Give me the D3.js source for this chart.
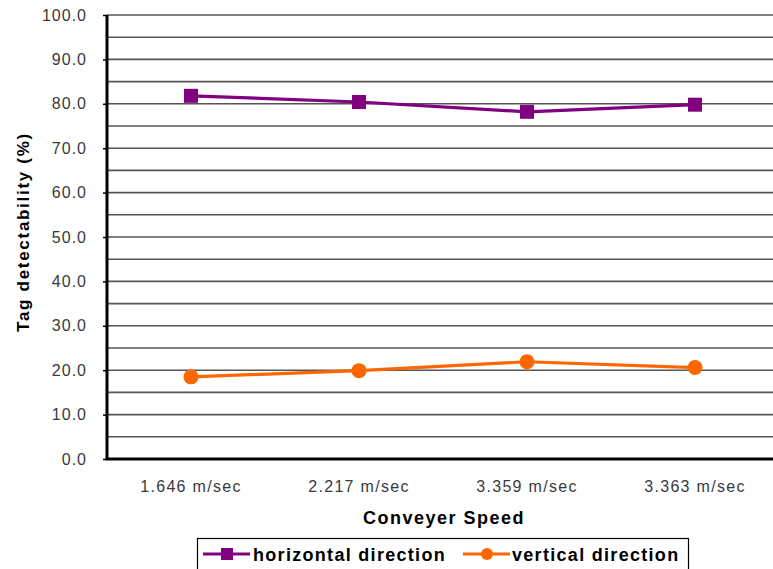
<!DOCTYPE html>
<html>
<head>
<meta charset="utf-8">
<script src="https://cdn.jsdelivr.net/npm/d3@7"></script>
<style>
  html, body { margin: 0; padding: 0; background: #fff; }
  svg { display: block; font-family: "Liberation Sans", Arial, sans-serif; }
</style>
</head>
<body>
<svg id="chart" width="773" height="569"></svg>
<script>
// Conveyer speeds and tag detectability (%) for each antenna direction
const speeds = ["1.646 m/sec", "2.217 m/sec", "3.359 m/sec", "3.363 m/sec"];
const horizontal = [81.8, 80.4, 78.2, 79.8];
const vertical = [18.5, 19.9, 21.9, 20.6];
const yTicks = [0, 10, 20, 30, 40, 50, 60, 70, 80, 90, 100];
const gridValues = [5, 10, 15, 20, 25, 30, 35, 40, 45, 50, 55, 60, 65, 70, 75, 80, 85, 90, 95, 100];
const seriesNames = ["horizontal direction", "vertical direction"];

const svg = d3.select("#chart");
const plotLeft = 107, plotRight = 779, plotTop = 15, plotBottom = 459;

const x = d3.scaleBand().domain(speeds).range([plotLeft, plotRight]);
const y = d3.scaleLinear().domain([0, 100]).range([plotBottom, plotTop]);
const cx = d => x(d) + x.bandwidth() / 2;

// horizontal gridlines every 5 %
svg.append("g").selectAll("line").data(gridValues).join("line")
  .attr("x1", plotLeft).attr("x2", plotRight)
  .attr("y1", d => y(d)).attr("y2", d => y(d))
  .attr("stroke", "#555").attr("stroke-width", 1.6);

// y axis labels
const yAxis = d3.axisLeft(y).tickValues(yTicks).tickFormat(d3.format(".1f")).tickSize(4).tickPadding(16);
const gy = svg.append("g").attr("transform", `translate(${plotLeft},0)`).call(yAxis);
gy.select(".domain").remove();
gy.selectAll(".tick line").attr("stroke", "#000").attr("stroke-width", 1.5);
gy.selectAll(".tick text").attr("font-size", 16).attr("letter-spacing", 1).attr("fill", "#3a3a3a")
  .attr("font-family", "Liberation Sans, Arial, sans-serif");

// x axis labels
const xAxis = d3.axisBottom(x).tickSize(0).tickPadding(22);
const gx = svg.append("g").attr("transform", `translate(0,${plotBottom})`).call(xAxis);
gx.select(".domain").remove();
gx.selectAll(".tick text").attr("font-size", 16).attr("letter-spacing", 1.3).attr("fill", "#3a3a3a")
  .attr("font-family", "Liberation Sans, Arial, sans-serif");

// axis frame lines
svg.append("line").attr("x1", plotLeft).attr("x2", plotLeft).attr("y1", plotTop).attr("y2", plotBottom + 1)
  .attr("stroke", "#000").attr("stroke-width", 3);
svg.append("line").attr("x1", plotLeft - 1.5).attr("x2", plotRight).attr("y1", plotBottom).attr("y2", plotBottom)
  .attr("stroke", "#000").attr("stroke-width", 3);

const line = d3.line().x((d, i) => cx(speeds[i])).y(d => y(d));

// horizontal direction series
svg.append("path").datum(horizontal).attr("d", line)
  .attr("fill", "none").attr("stroke", "#800080").attr("stroke-width", 3.2);
svg.append("g").selectAll("rect").data(horizontal).join("rect")
  .attr("x", (d, i) => cx(speeds[i]) - 7).attr("y", d => y(d) - 7)
  .attr("width", 14).attr("height", 14).attr("fill", "#800080");

// vertical direction series
svg.append("path").datum(vertical).attr("d", line)
  .attr("fill", "none").attr("stroke", "#ff6600").attr("stroke-width", 3.2);
svg.append("g").selectAll("circle").data(vertical).join("circle")
  .attr("cx", (d, i) => cx(speeds[i])).attr("cy", d => y(d)).attr("r", 7.5)
  .attr("fill", "#ff6600");

// axis titles
svg.append("text").attr("x", 444).attr("y", 524).attr("text-anchor", "middle")
  .attr("font-size", 18).attr("letter-spacing", 1.5).attr("font-weight", "bold").text("Conveyer Speed");
svg.append("text").attr("transform", "translate(29,232) rotate(-90)").attr("text-anchor", "middle")
  .attr("font-size", 17).attr("letter-spacing", 1.7).attr("font-weight", "bold").text("Tag detectability (%)");

// legend
const lg = svg.append("g");
lg.append("rect").attr("x", 197.5).attr("y", 538.5).attr("width", 491).attr("height", 40)
  .attr("fill", "#fff").attr("stroke", "#000").attr("stroke-width", 1.2);
const items = [
  { name: seriesNames[0], color: "#800080", shape: "square", x: 203, tx: 253 },
  { name: seriesNames[1], color: "#ff6600", shape: "circle", x: 463, tx: 512 }
];
items.forEach(it => {
  lg.append("line").attr("x1", it.x).attr("x2", it.x + 47).attr("y1", 554).attr("y2", 554)
    .attr("stroke", it.color).attr("stroke-width", 3.2);
  if (it.shape === "square") {
    lg.append("rect").attr("x", it.x + 18).attr("y", 548).attr("width", 12).attr("height", 12).attr("fill", it.color);
  } else {
    lg.append("circle").attr("cx", it.x + 24).attr("cy", 554).attr("r", 6).attr("fill", it.color);
  }
  lg.append("text").attr("x", it.tx).attr("y", 561).attr("font-size", 18).attr("letter-spacing", 1.3)
    .attr("font-weight", "bold").text(it.name);
});
</script>
</body>
</html>
